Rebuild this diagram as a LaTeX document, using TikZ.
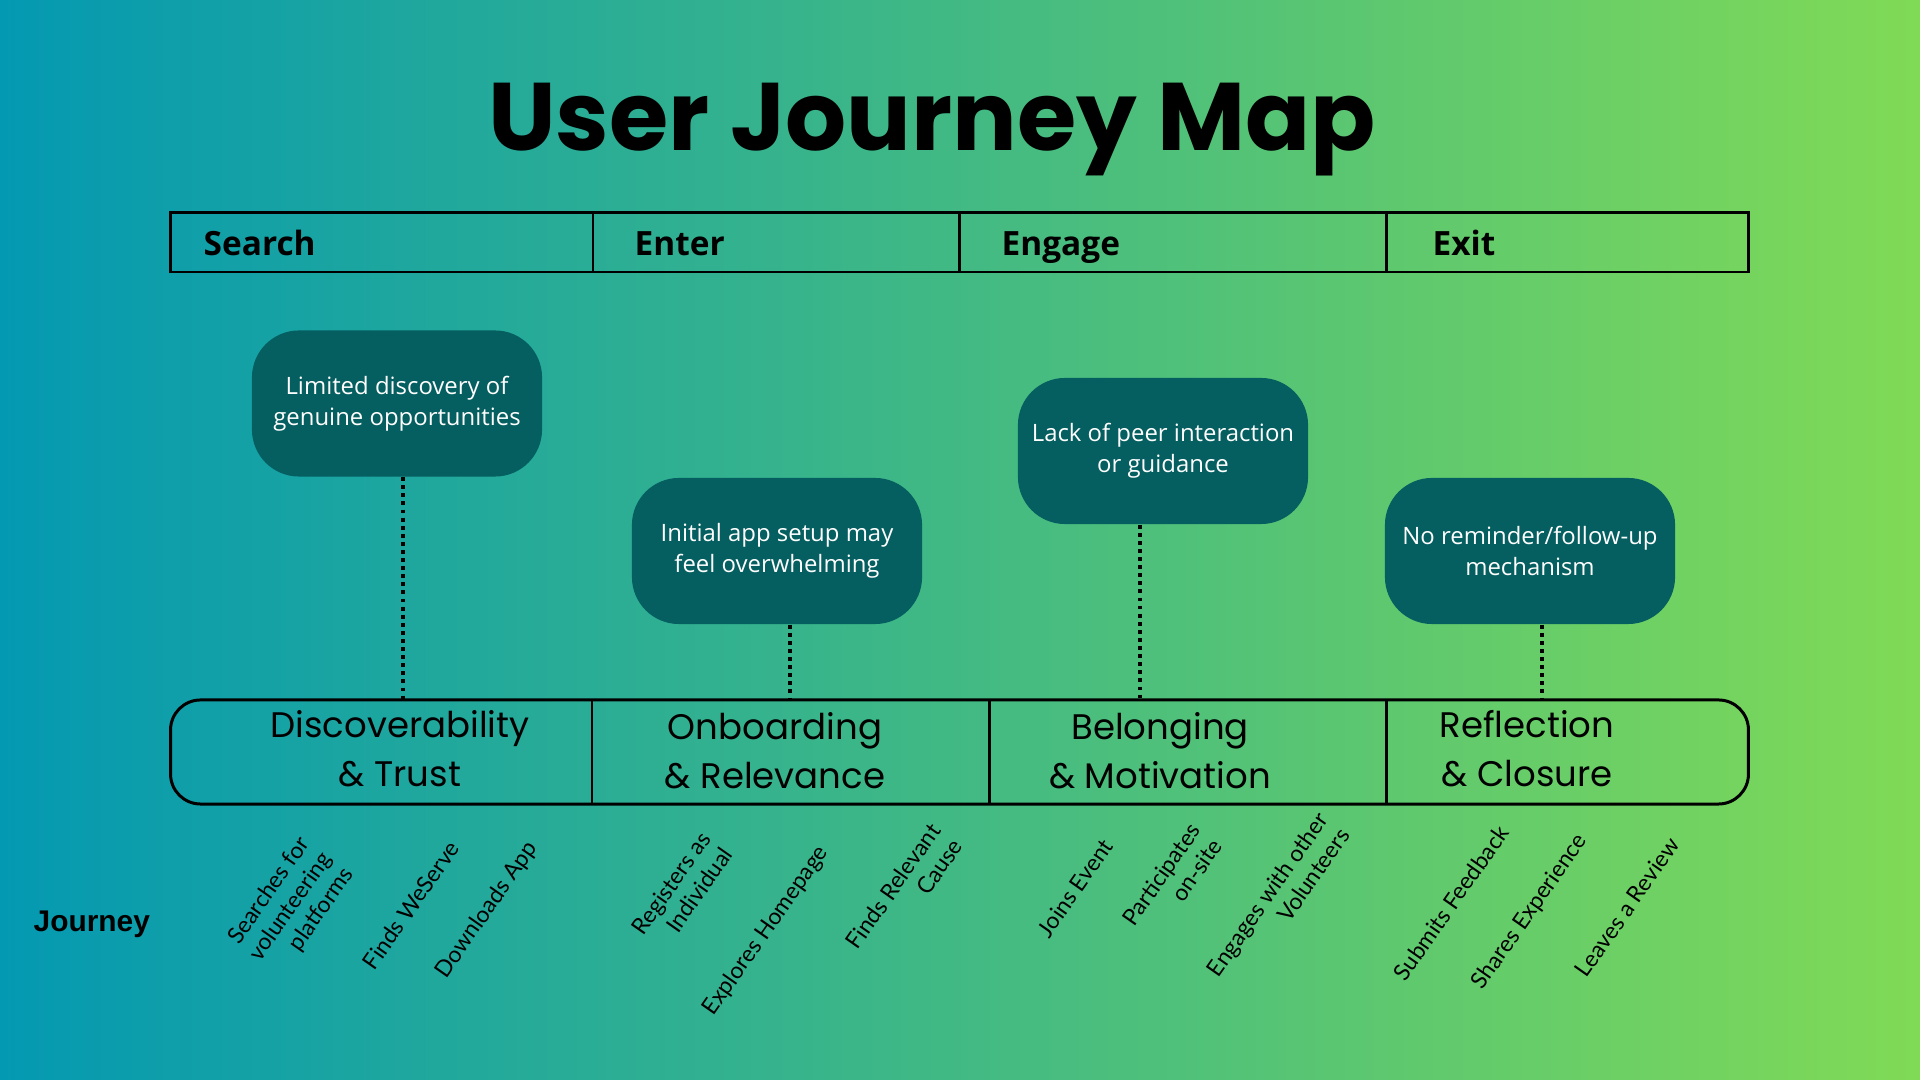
\documentclass[tikz,border=0pt]{standalone}
\usepackage{fontspec}
\setmainfont{Open Sans}
\newfontfamily\titlefont{Poppins}
\newfontfamily\stagefont{Poppins}
\newfontfamily\stepfont{Lato}
\newfontfamily\rowfont{Liberation Sans}
\usepackage{tikz}
\usetikzlibrary{positioning}

\definecolor{bgleft}{RGB}{4,153,178}
\definecolor{bgright}{RGB}{128,218,86}
\definecolor{painteal}{RGB}{5,94,96}

\begin{document}
\begin{tikzpicture}[
    x=0.01cm, y=-0.01cm,
    pp/.style={rectangle, fill=painteal, rounded corners=0.47cm, minimum width=2.9cm, minimum height=1.46cm, text=white, align=center, font=\fontsize{6.8}{8.8}\selectfont},
    ph/.style={anchor=base west, inner sep=0pt, font=\bfseries\fontsize{9.5}{11}\selectfont},
    st/.style={anchor=base, inner sep=0pt, align=center, font=\stagefont\fontsize{10.1}{14.2}\selectfont},
    stp/.style={rotate=55, align=right, inner sep=0pt, font=\stepfont\fontsize{6.5}{7.6}\selectfont},
    dotl/.style={line width=1pt, dash pattern=on 1.1pt off 1.2pt},
    frame/.style={line width=0.85pt},
]
    % background
    \shade[left color=bgleft, right color=bgright] (0,0) rectangle (1920,1080);

    \node[anchor=base, font=\titlefont\bfseries\fontsize{27.3}{32}\selectfont] (title) at (932,151) {User Journey Map};

    % phases row
    \node[draw, frame, minimum width=15.77cm, minimum height=0.59cm] (phases) at (959.5,242.5) {};
    \draw[frame] (593,213) -- (593,272);
    \draw[frame] (959,213) -- (959,272);
    \draw[frame] (1386,213) -- (1386,272);

    \node[ph] (search) at (203,256) {Search};
    \node[ph] (enter) at (634,256) {Enter};
    \node[ph] (engage) at (1001,256) {Engage};
    \node[ph] (exit) at (1432,256) {Exit};

    % pain points
    \node[pp] (pp1) at (397,403.5) {Limited discovery of\\genuine opportunities};
    \node[pp] (pp2) at (777,551) {Initial app setup may\\feel overwhelming};
    \node[pp] (pp3) at (1163,451) {Lack of peer interaction\\or guidance};
    \node[pp] (pp4) at (1530,551) {No reminder/follow-up\\mechanism};

    % stages row
    \node[draw, frame, rounded corners=0.3cm, minimum width=15.77cm, minimum height=1.04cm] (stages) at (959.5,752) {};
    \draw[frame] (592,700) -- (592,804);
    \draw[frame] (989,700) -- (989,804);
    \draw[frame] (1386,700) -- (1386,804);

    \node[st] (st1) at (400,787) {Discoverability\\\& Trust};
    \node[st] (st2) at (775,789) {Onboarding\\\& Relevance};
    \node[st] (st3) at (1160,789) {Belonging\\\& Motivation};
    \node[st] (st4) at (1527,787) {Reflection\\\& Closure};

    \coordinate (d1) at (403,700);
    \coordinate (d2) at (790,700);
    \coordinate (d3) at (1140,700);
    \coordinate (d4) at (1542,700);
    \draw[dotl] (d1 |- pp1.south) -- (d1);
    \draw[dotl] (d2 |- pp2.south) -- (d2);
    \draw[dotl] (d3 |- pp3.south) -- (d3);
    \draw[dotl] (d4 |- pp4.south) -- (d4);

    % journey steps
    \node[anchor=base west, inner sep=0pt, font=\rowfont\bfseries\fontsize{8.5}{10}\selectfont] (journey) at (33,932) {Journey};

    \node[stp] (s1) at (291,907) {Searches for\\volunteering\\platforms};
    \node[stp] (s2) at (411,905) {Finds WeServe};
    \node[stp] (s3) at (487,910) {Downloads App};
    \node[stp] (s4) at (682,891) {Registers as\\Individual};
    \node[stp] (s5) at (766,931) {Explores Homepage};
    \node[stp] (s6) at (904,894) {Finds Relevant\\Cause};
    \node[stp] (s7) at (1075,888) {Joins Event};
    \node[stp] (s8) at (1172,882) {Participates\\on-site};
    \node[stp] (s9) at (1278,902) {Engages with other\\Volunteers};
    \node[stp] (s10) at (1451,903) {Submits Feedback};
    \node[stp] (s11) at (1530,912) {Shares Experience};
    \node[stp] (s12) at (1627,907) {Leaves a Review};
\end{tikzpicture}
\end{document}
